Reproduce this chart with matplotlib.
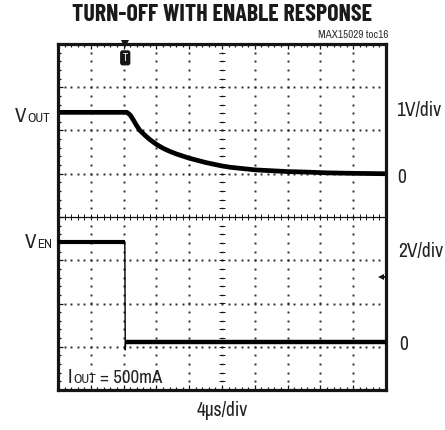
import numpy as np
import matplotlib
matplotlib.use("Agg")
import matplotlib.pyplot as plt
from matplotlib.ticker import MultipleLocator

FAM = ['Archivo Narrow', 'Liberation Sans Narrow', 'Liberation Sans', 'DejaVu Sans']
TITLE_FAM = ['Barlow Condensed', 'Fira Sans Extra Condensed', 'Asap Condensed', 'Liberation Sans']
plt.rcParams['font.family'] = FAM

# ---------------- data ----------------
# time in microseconds (4 us/div, 10 divisions)
vout_t = [0, 2, 4, 6, 8.4, 8.8, 9.2, 9.6, 10.0, 10.6, 11.2, 12.0, 12.8, 13.6, 14.4,
          15.2, 16.0, 17.0, 18.0, 19.0, 20.0, 21.0, 22.0, 24.0, 26.0, 28.0, 30.0,
          33.0, 36.0, 40.0]
vout_v = [1.42, 1.42, 1.42, 1.42, 1.42, 1.36, 1.24, 1.11, 1.00, 0.89, 0.79, 0.68,
          0.59, 0.52, 0.46, 0.41, 0.36, 0.31, 0.26, 0.22, 0.18, 0.15, 0.13, 0.09,
          0.07, 0.05, 0.04, 0.02, 0.01, 0.0]

ven_t = [0, 8.15, 8.2, 8.25, 40.0]
ven_v = [4.65, 4.65, -0.35, 0.0, 0.0]

trigger_t = 8.2        # us
trigger_level = 3.0    # V on EN channel

title = 'TURN-OFF WITH ENABLE RESPONSE'
tag = 'MAX15029 toc16'

W, H = 445, 430
fig = plt.figure(figsize=(W / 100, H / 100), dpi=100)
fig.patch.set_facecolor('white')

def px(x, y):
    return x / W, 1 - y / H

ax = fig.add_axes([58 / W, 1 - 390 / H, 328 / W, 346 / H])
ax.set_xlim(0, 40)
ax.set_ylim(-5, 3)          # VOUT channel, 1 V/div, zero at 5th division
ax.set_facecolor('white')

ink = '#151515'
grid_c = '#2a2a2a'

for s in ax.spines.values():
    s.set_linewidth(2.3)
    s.set_color(ink)
ax.xaxis.set_major_locator(MultipleLocator(4))
ax.xaxis.set_minor_locator(MultipleLocator(0.8))
ax.yaxis.set_major_locator(MultipleLocator(1))
ax.yaxis.set_minor_locator(MultipleLocator(0.2))
ax.tick_params(which='both', direction='in', top=True, right=True,
               labelbottom=False, labelleft=False, color=ink, width=0.9)
ax.tick_params(which='major', length=3.5)
ax.tick_params(which='minor', length=2.2)

# dotted graticule
xs_dots = np.arange(0, 40.01, 0.8)
ys_dots = np.arange(-5, 3.01, 0.2)
for gy in range(-4, 3):
    if gy == -1:
        continue
    ax.plot(xs_dots, np.full_like(xs_dots, gy), ls='none', marker='s', ms=1.4,
            color=grid_c, mew=0)
for gx in range(4, 40, 4):
    if gx == 20:
        continue
    ax.plot(np.full_like(ys_dots, gx), ys_dots, ls='none', marker='s', ms=1.4,
            color=grid_c, mew=0)

# centre lines with ticks
ax.axhline(-1, color=ink, lw=0.9)
ax.plot(xs_dots, np.full_like(xs_dots, -1), ls='none', marker='|', ms=4.5,
        color=ink, mew=0.7)
ax.plot(np.full_like(ys_dots, 20), ys_dots, ls='none', marker='s', ms=1.2,
        color='#444444', mew=0)
ax.plot(np.full_like(ys_dots, 20), ys_dots, ls='none', marker='_', ms=4.0,
        color=ink, mew=0.7)

# VOUT trace
ax.plot(vout_t, vout_v, color='#000000', lw=3.4, solid_joinstyle='round',
        solid_capstyle='butt')

# VEN trace on its own scale (2 V/div)
ax2 = ax.twinx()
ax2.set_ylim(-2.206, -2.206 + 16)
ax2.set_yticks([])
for s in ax2.spines.values():
    s.set_visible(False)
ax2.plot(ven_t, ven_v, color='#000000', lw=1.0)
ax2.plot(ven_t[:2], ven_v[:2], color='#000000', lw=3.0, solid_capstyle='butt')
ax2.plot(ven_t[3:], ven_v[3:], color='#000000', lw=3.2, solid_capstyle='butt')
ax2.plot([39.4], [trigger_level], marker='<', ms=4.5, color=ink, mew=0)
ax2.plot([39.4, 40], [trigger_level, trigger_level], color=ink, lw=1.3)

# trigger marker on top
ax.plot([trigger_t], [3.0], marker='v', ms=6, color=ink, mew=0, clip_on=False, zorder=5)
ax.text(trigger_t, 2.68, 'T', ha='center', va='center', fontsize=7.5, color='white',
        fontweight='bold',
        bbox=dict(boxstyle='round,pad=0.18', fc=ink, ec=ink))

# ---------------- text ----------------
tc = '#222222'
fig.text(*px(222.5, 15), title, ha='center', va='center', fontsize=17.3,
         fontweight='bold', family=TITLE_FAM, color='#1a1a1a')
fig.text(*px(388, 34.5), tag, ha='right', va='center', fontsize=8, color='#333333')

fig.text(*px(15, 122), 'V', ha='left', va='baseline', fontsize=15, color=tc)
fig.text(*px(27.5, 122), 'OUT', ha='left', va='baseline', fontsize=9.5, color=tc)
fig.text(*px(396, 116), '1V/div', ha='left', va='baseline', fontsize=14, color=tc)
fig.text(*px(397, 183), '0', ha='left', va='baseline', fontsize=14, color=tc)

fig.text(*px(25, 248), 'V', ha='left', va='baseline', fontsize=15, color=tc)
fig.text(*px(37.5, 248), 'EN', ha='left', va='baseline', fontsize=9.5, color=tc)
fig.text(*px(398, 257), '2V/div', ha='left', va='baseline', fontsize=14, color=tc)
fig.text(*px(399, 350), '0', ha='left', va='baseline', fontsize=14, color=tc)

fig.text(*px(68, 383), 'I', ha='left', va='baseline', fontsize=14.5, color=tc)
fig.text(*px(73, 383), 'OUT', ha='left', va='baseline', fontsize=9.5, color=tc)
fig.text(*px(100, 383), '= 500mA', ha='left', va='baseline', fontsize=13.5, color=tc)

fig.text(*px(222, 416), '4\u00b5s/div', ha='center', va='baseline', fontsize=14, color=tc)

fig.savefig('out.png', dpi=100, facecolor='white')
